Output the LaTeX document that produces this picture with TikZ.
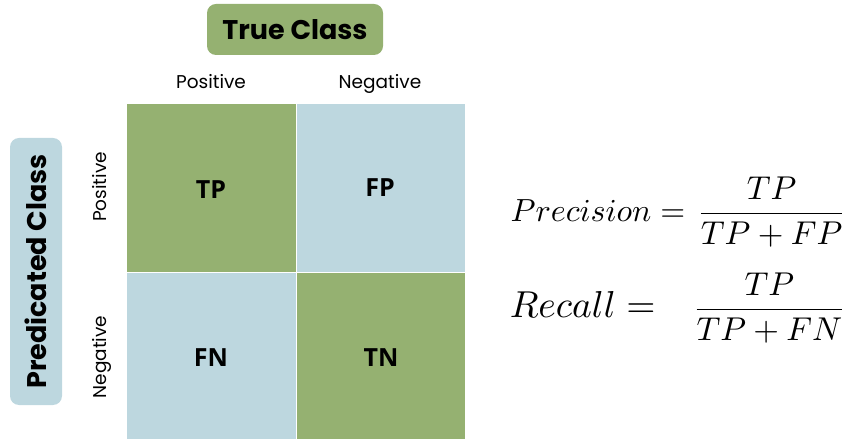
\documentclass[tikz,border=0pt]{standalone}
\usepackage{fontspec}
\setmainfont{Poppins}
\newfontfamily\cellfont{Open Sans}
\definecolor{cgreen}{HTML}{95B171}
\definecolor{cblue}{HTML}{BDD7DF}
\begin{document}
\begin{tikzpicture}[x=1pt,y=1pt,
  cellbox/.style={draw=white, line width=0.6pt, inner sep=0pt},
  celltext/.style={font=\cellfont\bfseries\fontsize{25}{28}\selectfont, inner sep=0pt},
  axislabel/.style={font=\fontsize{18.5}{22}\selectfont, inner sep=0pt, anchor=base},
  titlebox/.style={rounded corners=9pt, inner sep=0pt, font=\bfseries\fontsize{27}{32}\selectfont},
  mathpart/.style={inner sep=0pt}
]
\useasboundingbox (0,0) rectangle (848,439);
% cells
\node[cellbox, fill=cgreen, minimum width=170, minimum height=169] (tpc) at (211,251.5) {};
\node[cellbox, fill=cblue, minimum width=169, minimum height=169] (fpc) at (380.5,251.5) {};
\node[cellbox, fill=cblue, minimum width=170, minimum height=167] (fnc) at (211,83.5) {};
\node[cellbox, fill=cgreen, minimum width=169, minimum height=167] (tnc) at (380.5,83.5) {};
% cell texts
\node[celltext] (tp) at (211,249) {TP};
\node[celltext] (fp) at (380,251) {FP};
\node[celltext] (fn) at (211,81.5) {FN};
\node[celltext] (tn) at (381,81.5) {TN};
% titles
\node[titlebox, fill=cgreen, minimum width=176, minimum height=51] (tc) at (295,409.5) {True Class};
\node[titlebox, fill=cblue, rotate=90, minimum width=267, minimum height=52] (pc) at (36,167.5) {Predicated Class};
% axis labels
\node[axislabel] (cpos) at (211,350) {Positive};
\node[axislabel] (cneg) at (380,350) {Negative};
\node[axislabel, rotate=90] (rpos) at (106.5,252) {Positive};
\node[axislabel, rotate=90] (rneg) at (106.5,82) {Negative};
% formulas
\node[mathpart, anchor=base west, scale=3.2] (precl) at (510,217) {$Precision =$};
\node[mathpart, anchor=base east, scale=3.3] (precf) at (847,217) {$\displaystyle\frac{TP}{TP+FP}$};
\node[mathpart, anchor=base west, scale=3.75] (recl) at (509,121) {$Recall =$};
\node[mathpart, anchor=base east, scale=3.3] (recf) at (847,121) {$\displaystyle\frac{TP}{TP+FN}$};
\end{tikzpicture}
\end{document}
